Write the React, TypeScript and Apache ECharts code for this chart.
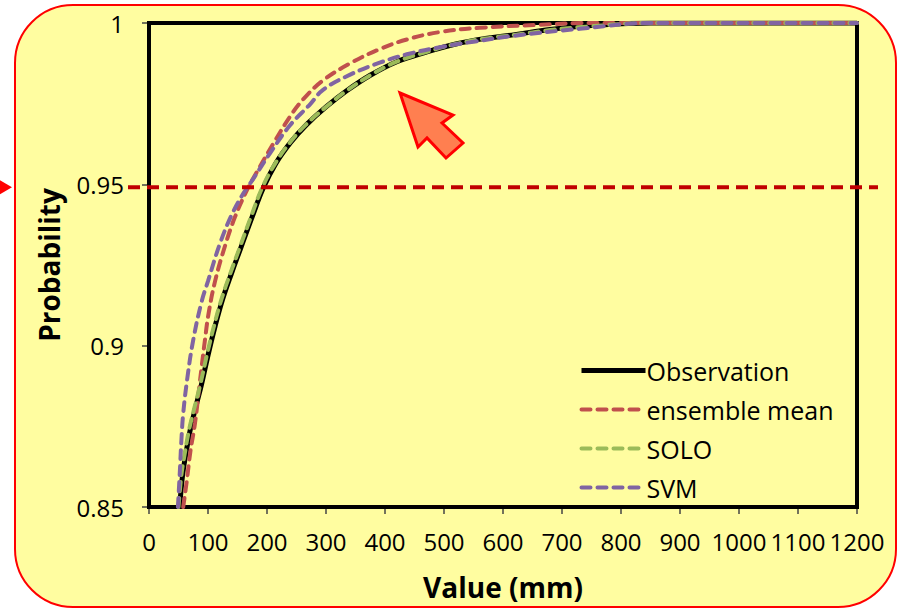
import React, { useEffect, useRef } from "react";
import * as echarts from "echarts";

const seriesNames = ["Observation", "ensemble mean", "SOLO", "SVM"];

const obsX = [52, 57, 63, 70, 80, 89, 100, 112, 125, 140, 155, 175, 194, 215, 240, 267, 300, 335, 375, 420, 470, 520, 570, 620, 680, 750, 850, 1200];
const obsP = [0.85, 0.86, 0.867, 0.874, 0.8815, 0.888, 0.897, 0.906, 0.9145, 0.9225, 0.93, 0.94, 0.949, 0.9565, 0.963, 0.9685, 0.974, 0.979, 0.9838, 0.988, 0.991, 0.9935, 0.9952, 0.9964, 0.998, 0.9992, 1.0, 1.0];

const ensX = [58, 64, 70, 78, 86, 95, 101, 112, 129, 146, 166, 183, 211, 239, 262, 295, 341, 391, 437, 493, 560, 657, 750, 1200];
const ensP = [0.85, 0.858, 0.867, 0.876, 0.8885, 0.902, 0.91, 0.92, 0.931, 0.94, 0.9482, 0.9539, 0.9627, 0.971, 0.9765, 0.9822, 0.9875, 0.9919, 0.9949, 0.9972, 0.9985, 0.9994, 1.0, 1.0];

const soloX = [50, 55, 61, 68, 78, 87, 98, 110, 123, 138, 153, 173, 192, 214, 239, 266, 300, 335, 375, 420, 470, 520, 570, 620, 680, 750, 850, 1200];
const soloP = [0.85, 0.86, 0.867, 0.874, 0.8815, 0.888, 0.897, 0.906, 0.9145, 0.9225, 0.93, 0.94, 0.949, 0.9565, 0.963, 0.9685, 0.974, 0.979, 0.9838, 0.988, 0.991, 0.9935, 0.9952, 0.9963, 0.9978, 0.999, 1.0, 1.0];

const svmX = [49, 52, 55, 58, 65, 75, 89, 100, 120, 140, 160, 177, 205, 239, 273, 295, 341, 391, 437, 493, 550, 617, 730, 850, 1200];
const svmP = [0.85, 0.86, 0.871, 0.879, 0.89, 0.9018, 0.9135, 0.92, 0.9315, 0.9405, 0.9472, 0.9518, 0.9596, 0.9683, 0.9748, 0.9793, 0.984, 0.9877, 0.9903, 0.9925, 0.9942, 0.996, 0.9982, 1.0, 1.0];

const threshold = 0.95;
const xTicks = { min: 0, max: 1200, interval: 100 };
const yTicks = { min: 0.85, max: 1, interval: 0.05 };

const pair = (xs: number[], ps: number[]) => xs.map((x, i) => [x, ps[i]]);

export default function App() {
  const ref = useRef<HTMLDivElement>(null);
  useEffect(() => {
    const chart = echarts.init(ref.current!, null, { renderer: "svg" });
    const font = "'Open Sans', 'Noto Sans', sans-serif";
    const dash = [9, 7];
    const colors = ["#000000", "#C0504D", "#9BBB59", "#8064A2"];
    const data = [pair(obsX, obsP), pair(ensX, ensP), pair(soloX, soloP), pair(svmX, svmP)];
    chart.setOption({
      animation: false,
      backgroundColor: "#ffffff",
      textStyle: { fontFamily: font },
      grid: {
        left: 149,
        right: 46,
        top: 23,
        bottom: 102,
        show: true,
        borderColor: "#000",
        borderWidth: 4,
        backgroundColor: "transparent",
        z: 1,
      },
      legend: {
        orient: "vertical",
        left: 574,
        top: 353,
        itemWidth: 64,
        itemHeight: 14,
        itemGap: 14,
        selectedMode: false,
        data: seriesNames,
        itemStyle: { opacity: 0 },
        lineStyle: { width: "inherit" },
        textStyle: { fontSize: 25, color: "#000", fontFamily: font, padding: [0, 0, 0, -4] },
      },
      xAxis: {
        type: "value",
        min: xTicks.min,
        max: xTicks.max,
        interval: xTicks.interval,
        name: "Value (mm)",
        nameLocation: "middle",
        nameGap: 66,
        nameTextStyle: { fontSize: 28, fontWeight: "bold", color: "#000", fontFamily: font },
        axisLine: { lineStyle: { color: "#000", width: 4 } },
        axisTick: { show: true, length: 7, lineStyle: { color: "#444", width: 1.5 } },
        axisLabel: {
          fontSize: 24,
          color: "#000",
          margin: 22,
          fontFamily: font,
          showMaxLabel: true,
          showMinLabel: true,
          formatter: (v: number) => String(v),
        },
        splitLine: { show: false },
      },
      yAxis: {
        type: "value",
        min: yTicks.min,
        max: yTicks.max,
        interval: yTicks.interval,
        name: "Probability",
        nameLocation: "middle",
        nameGap: 86,
        nameTextStyle: { fontSize: 28, fontWeight: "bold", color: "#000", fontFamily: font },
        axisLine: { lineStyle: { color: "#000", width: 4 } },
        axisTick: { show: true, length: 7, lineStyle: { color: "#444", width: 1.5 } },
        axisLabel: { fontSize: 24, color: "#000", margin: 25, fontFamily: font },
        splitLine: { show: false },
      },
      series: seriesNames.map((name, i) => ({
        name,
        type: "line",
        data: data[i],
        symbol: "none",
        smooth: 0.4,
        z: 3 + i,
        itemStyle: { color: colors[i] },
        lineStyle: {
          color: colors[i],
          width: i === 0 ? 5 : 4,
          type: i === 0 ? "solid" : dash,
          cap: i === 0 ? "butt" : "round",
        },
      })),
    });

    const left = chart.convertToPixel({ gridIndex: 0 }, [xTicks.min, threshold]) as number[];
    const y = left[1] + 3;
    chart.setOption({
      graphic: [
        {
          type: "rect",
          z: -100,
          silent: true,
          shape: { x: 15, y: 5, width: 881, height: 602, r: 58 },
          style: { fill: "#FFFDA0", stroke: "#FF0000", lineWidth: 2 },
        },
        {
          type: "line",
          z: 100,
          silent: true,
          shape: { x1: 128, y1: y, x2: 878, y2: y },
          style: { stroke: "#C00000", lineWidth: 4, lineDash: [12, 7] },
        },
        {
          type: "polygon",
          z: 100,
          silent: true,
          shape: { points: [[0, y - 7], [12, y], [0, y + 7]] },
          style: { fill: "#FF0000" },
        },
        {
          type: "polygon",
          z: 100,
          silent: true,
          shape: {
            points: [
              [400, 93],
              [453, 115],
              [442, 123],
              [463, 143],
              [446, 158],
              [427, 138],
              [418, 147],
            ],
          },
          style: { fill: "#FF7F50", stroke: "#FF0000", lineWidth: 3, lineJoin: "miter" },
        },
      ],
    });
    return () => chart.dispose();
  }, []);
  return <div ref={ref} style={{ position: "absolute", left: 0, top: 0, width: 903, height: 609 }} />;
}
